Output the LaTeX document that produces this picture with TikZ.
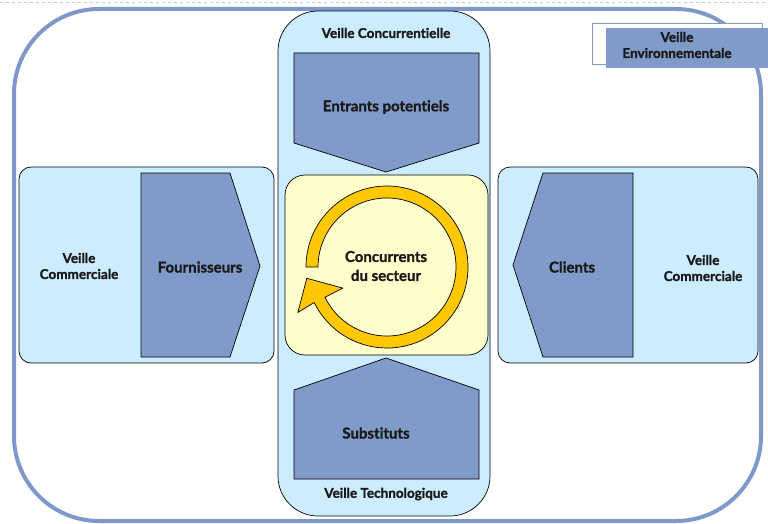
\documentclass[tikz,border=0pt]{standalone}
\usepackage{fontspec}
\setmainfont{Lato}[BoldFeatures={FakeBold=1.2}, Ligatures=NoCommon]
\usepackage{tikz}
\usetikzlibrary{positioning}

\definecolor{veillebg}{RGB}{204,236,255}
\definecolor{forcebg}{RGB}{128,155,202}
\definecolor{coeurbg}{RGB}{255,255,204}
\definecolor{cadre}{RGB}{126,152,202}
\definecolor{fleche}{RGB}{255,200,0}

\begin{document}
\begin{tikzpicture}[
    x=1pt, y=-1pt,
    panel/.style={draw, fill=veillebg, line width=0.7pt, rounded corners=12pt},
    force/.style={draw, fill=forcebg, line width=0.7pt, line join=miter},
    veilletxt/.style={font=\bfseries\fontsize{13.5}{16}\selectfont, align=center, text=black!90},
    forcetxt/.style={font=\bfseries\fontsize{15}{19}\selectfont, align=center, text=black!90},
    ring/.style={draw, fill=fleche, line width=0.7pt, line join=miter}
]
    \useasboundingbox (0,0) rectangle (768,524);
    % cadre
    \draw[cadre!50, dashed, line width=0.6pt] (0,2) -- (768,2);
    \draw[cadre, line width=4pt, rounded corners=85pt] (14,9) rectangle (761,521);

    % veille environnementale
    \draw[cadre, line width=0.8pt, fill=white] (592,23) rectangle (762,64);
    \fill[forcebg] (606,28) rectangle (768,68);
    \node[veilletxt] (env) at (677,45) {Veille\\Environnementale};

    % colonne centrale
    \draw[panel, rounded corners=40pt] (278,11) rectangle (490,516);
    \node[veilletxt] (vconc) at (386,33) {Veille Concurrentielle};
    \node[veilletxt] (vtech) at (386,494) {Veille Technologique};

    % panneaux lateraux
    \draw[panel] (19,167) rectangle (274,363);
    \draw[panel] (498,167) rectangle (758,363);
    \node[veilletxt] (vcomg) at (79,266) {Veille\\Commerciale};
    \node[veilletxt] (vcomd) at (703,268) {Veille\\Commerciale};

    % forces
    \draw[force] (294,53) -- (479,53) -- (479,143) -- (386,172) -- (294,143) -- cycle;
    \node[forcetxt] (entrants) at (386,107) {Entrants potentiels};
    \draw[force] (294,479) -- (294,390) -- (386,358) -- (479,390) -- (479,479) -- cycle;
    \node[forcetxt] (subst) at (376,433) {Substituts};
    \draw[force] (141,173) -- (230,173) -- (260,266) -- (230,357) -- (141,357) -- cycle;
    \node[forcetxt] (fourn) at (200,267) {Fournisseurs};
    \draw[force] (543,173) -- (633,173) -- (633,357) -- (543,357) -- (513,265) -- cycle;
    \node[forcetxt] (clients) at (572,267) {Clients};

    % concurrents du secteur
    \draw[fill=coeurbg, line width=0.7pt, rounded corners=20pt] (285,175) rectangle (488,355);
    \begin{scope}[shift={(387,267)}, yscale=-1]
        \draw[ring] (180:81) arc[start angle=180, end angle=-154, radius=81]
            -- (207:100) -- (188:81) -- (205.5:49) -- (206:69)
            arc[start angle=-154, end angle=180, radius=69] -- cycle;
    \end{scope}
    \node[forcetxt] (coeur) at (386,266) {Concurrents\\du secteur};
\end{tikzpicture}
\end{document}
